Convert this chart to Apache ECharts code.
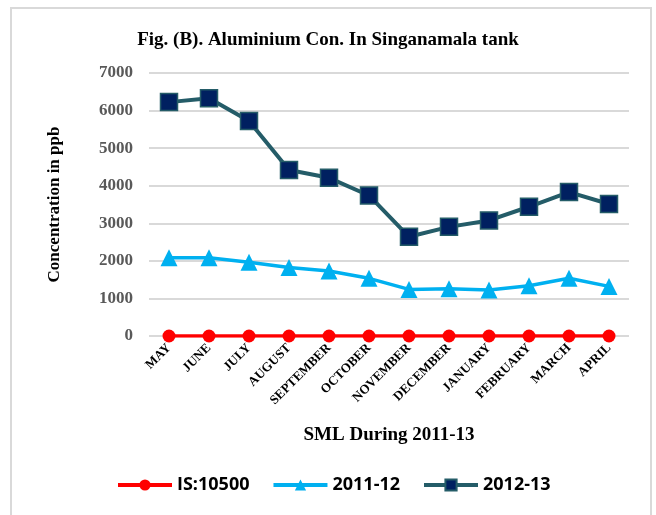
<!DOCTYPE html>
<html>
<head>
<meta charset="utf-8">
<script src="https://cdn.jsdelivr.net/npm/echarts@6/dist/echarts.min.js"></script>
<style>
  html, body { margin: 0; padding: 0; background: #fff; }
  #frame { position: absolute; left: 10px; top: 7px; width: 642px; height: 520px; border: 2px solid #d9d9d9; box-sizing: border-box; }
  #chart { position: absolute; left: 0; top: 0; width: 656px; height: 515px; }
</style>
</head>
<body>
<div id="frame"></div>
<div id="chart"></div>
<script>
  // months of the sampling period
  var months = ['MAY', 'JUNE', 'JULY', 'AUGUST', 'SEPTEMBER', 'OCTOBER', 'NOVEMBER',
    'DECEMBER', 'JANUARY', 'FEBRUARY', 'MARCH', 'APRIL']
  var is10500 = [0, 0, 0, 0, 0, 0, 0, 0, 0, 0, 0, 0]
  var y2011 = [2080, 2080, 1960, 1825, 1730, 1535, 1240, 1260, 1225, 1340, 1535, 1320]
  var y2012 = [6225, 6330, 5723, 4418, 4210, 3740, 2640, 2905, 3075, 3440, 3830, 3513]
  var seriesNames = ['IS:10500', '2011-12', '2012-13']

  var chart = echarts.init(document.getElementById('chart'))
  var serif = '"Liberation Serif", "Times New Roman", serif'

  chart.setOption({
    animation: false,
    title: {
      text: 'Fig. (B). Aluminium Con. In Singanamala tank',
      left: 'center',
      top: 26,
      textStyle: { fontFamily: serif, fontWeight: 'bold', fontSize: 19, color: '#000' }
    },
    grid: { left: 149, right: 27, top: 73, bottom: 179 },
    legend: {
      bottom: 16,
      left: 111,
      itemGap: 22,
      itemWidth: 54,
      itemHeight: 14,
      data: seriesNames,
      lineStyle: { width: 4 },
      textStyle: { fontFamily: '"Open Sans", sans-serif', fontWeight: 'bold', fontSize: 18, color: '#000' }
    },
    xAxis: {
      type: 'category',
      data: months,
      boundaryGap: true,
      name: 'SML During 2011-13',
      nameLocation: 'middle',
      nameGap: 90,
      nameTextStyle: { fontFamily: serif, fontWeight: 'bold', fontSize: 19, color: '#000' },
      axisLine: { show: false },
      axisTick: { show: false },
      axisLabel: {
        rotate: 45,
        interval: 0,
        margin: 10,
        fontFamily: serif,
        fontWeight: 'bold',
        fontSize: 13,
        color: '#000'
      }
    },
    yAxis: {
      type: 'value',
      min: 0,
      max: 7000,
      interval: 1000,
      name: 'Concentration in ppb',
      nameLocation: 'middle',
      nameGap: 86,
      nameTextStyle: { fontFamily: serif, fontWeight: 'bold', fontSize: 17, color: '#000' },
      axisLine: { show: false },
      axisTick: { show: false },
      axisLabel: {
        formatter: function (v) { return String(v) },
        fontFamily: serif, fontWeight: 'bold', fontSize: 17, color: '#595959', margin: 16
      },
      splitLine: { lineStyle: { color: '#d9d9d9', width: 2 } }
    },
    series: [
      {
        name: seriesNames[0],
        type: 'line',
        data: is10500,
        symbol: 'circle',
        symbolSize: 13,
        z: 3,
        lineStyle: { color: '#ff0000', width: 3.5 },
        itemStyle: { color: '#ff0000' }
      },
      {
        name: seriesNames[1],
        type: 'line',
        data: y2011,
        symbol: 'triangle',
        symbolSize: 17,
        lineStyle: { color: '#00b0f0', width: 3.5 },
        itemStyle: { color: '#00b0f0' }
      },
      {
        name: seriesNames[2],
        type: 'line',
        data: y2012,
        symbol: 'rect',
        symbolSize: 17,
        lineStyle: { color: '#245c68', width: 4 },
        itemStyle: { color: '#002060', borderColor: '#245c68', borderWidth: 1.5 }
      }
    ]
  })
</script>
</body>
</html>
